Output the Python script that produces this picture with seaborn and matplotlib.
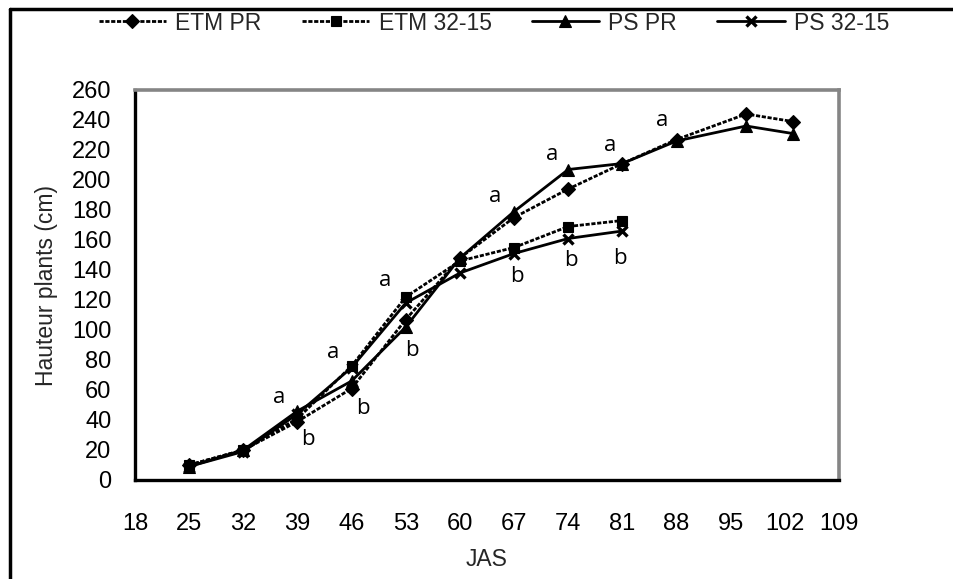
import matplotlib
matplotlib.use("Agg")
import matplotlib.pyplot as plt
import seaborn as sns
import pandas as pd
from matplotlib.lines import Line2D

sns.set_theme(style="white")
plt.rcParams['font.family'] = ['Liberation Sans', 'DejaVu Sans']

days_long = [25, 32, 39, 46, 53, 60, 67, 74, 81, 88, 97, 103]
days_short = [25, 32, 39, 46, 53, 60, 67, 74, 81]
etm_pr = [10, 20, 39, 61, 107, 148, 175, 194, 211, 227, 244, 239]
etm_3215 = [10, 20, 41, 76, 122, 146, 155, 169, 173]
ps_pr = [9, 20, 46, 66, 102, 148, 179, 207, 211, 226, 236, 231]
ps_3215 = [9, 19, 44, 75, 118, 138, 151, 161, 166]

series_names = ["ETM PR", "ETM 32-15", "PS PR", "PS 32-15"]
xticks = list(range(18, 110, 7))
yticks = list(range(0, 261, 20))

letters = ["a", "b", "a", "b", "a", "b", "a", "b", "a", "b", "a", "b", "a"]
letter_x = [36.7, 40.4, 43.6, 47.5, 50.4, 53.8, 64.5, 67.4, 71.9, 74.3, 79.4, 80.7, 86.1]
letter_y = [55, 27, 85, 48, 133, 86, 189, 136, 217, 146, 223, 148, 240]

fig = plt.figure(figsize=(9.54, 5.79), dpi=100)
ax = fig.add_axes([135 / 954, 1 - 480 / 579, (839 - 135) / 954, (480 - 90) / 579])

dash = (0, (1.5, 0.6))
styles = [
    (days_long, etm_pr, "D", dash, 7, 0.8),
    (days_short, etm_3215, "s", dash, 7, 0.8),
    (days_long, ps_pr, "^", "-", 8.5, 0.8),
    (days_short, ps_3215, "x", "-", 6.5, 2.4),
]
handles = []
for name, (xs, ys, mk, ls, ms, mew) in zip(series_names, styles):
    df = pd.DataFrame({"x": xs, "y": ys})
    sns.lineplot(data=df, x="x", y="y", ax=ax, color="black", marker=mk,
                 markersize=ms, linewidth=2.0, linestyle=ls, markeredgecolor="black",
                 markeredgewidth=mew, legend=False)
    handles.append(Line2D([], [], color="black", marker=mk, markersize=ms,
                          linewidth=2.0, linestyle=ls, markeredgewidth=mew))

for t, lx, ly in zip(letters, letter_x, letter_y):
    ax.text(lx, ly, t, ha="center", va="center", fontsize=16,
            family=["Open Sans", "DejaVu Sans"], color="black")

ax.set_xlim(18, 109)
ax.set_ylim(0, 260)
ax.set_xticks(xticks)
ax.set_yticks(yticks)
ax.tick_params(axis="both", direction="out", length=6, width=2.2, labelsize=17,
               colors="black")
ax.tick_params(axis="x", pad=18)
ax.tick_params(axis="y", pad=11)
for side in ["left", "bottom"]:
    ax.spines[side].set_color("black")
    ax.spines[side].set_linewidth(2.4)
for side in ["top", "right"]:
    ax.spines[side].set_color("#858585")
    ax.spines[side].set_linewidth(2.6)
ax.set_xlabel("JAS", fontsize=16.5, labelpad=9)
ax.set_ylabel("Hauteur plants (cm)", fontsize=16.5, labelpad=10)

fig.legend(handles, series_names, loc="center", bbox_to_anchor=(494 / 954, 1 - 23 / 579),
           ncol=4, frameon=False, fontsize=16.5, handlelength=2.95, columnspacing=1.75,
           handletextpad=0.4, borderpad=0, borderaxespad=0)

# outer frame lines (top and left)
fig.add_artist(Line2D([10 / 954, 1.0], [1 - 9 / 579, 1 - 9 / 579], color="black",
                      linewidth=2.5, transform=fig.transFigure))
fig.add_artist(Line2D([10 / 954, 10 / 954], [0, 1 - 9 / 579], color="black",
                      linewidth=2.5, transform=fig.transFigure))

fig.savefig("out.png", dpi=100, facecolor="white")
